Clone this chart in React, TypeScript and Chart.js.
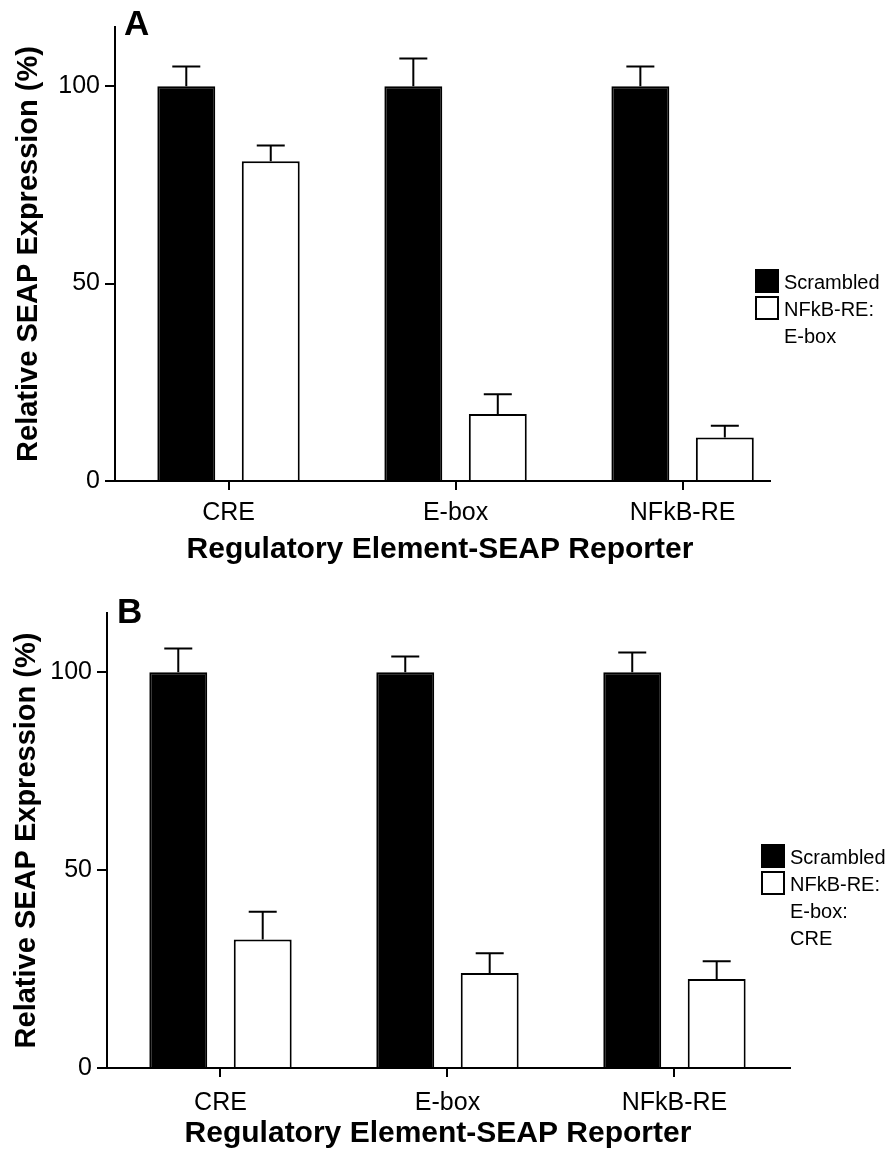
import React, { useEffect, useRef } from 'react';
import { Chart, registerables } from 'chart.js';

Chart.register(...registerables);

const FONT = '"Liberation Sans", Arial, Helvetica, sans-serif';

// Shared axis content
const categories = ['CRE', 'E-box', 'NFkB-RE'];
const categoryPositions = [0, 1, 2];
const yTickValues = [0, 50, 100];
const yMin = 0;
const yMax = 115;
const xAxisTitle = 'Regulatory Element-SEAP Reporter';
const yAxisTitle = 'Relative SEAP Expression (%)';
const scrambledLabel = ['Scrambled'];

// Panel A: scrambled vs NFkB-RE:E-box decoy
const scrambledA = [100, 100, 100];
const scrambledErrA = [5, 7, 5];
const decoyA = [81, 17, 11];
const decoyErrA = [4, 5, 3];
const decoyLabelA = ['NFkB-RE:', 'E-box'];

// Panel B: scrambled vs NFkB-RE:E-box:CRE decoy
const scrambledB = [100, 100, 100];
const scrambledErrB = [6, 4, 5];
const decoyB = [32.5, 24, 22.5];
const decoyErrB = [7, 5, 4.5];
const decoyLabelB = ['NFkB-RE:', 'E-box:', 'CRE'];

type PanelLayout = {
  letter: string;
  top: number;
  height: number;
  axisLeft: number;
  plotTop: number;
  plotBottom: number;
  plotRight: number;
  xMax: number;
  xLabelPad: number;
  yTitlePad: number;
  xTitleX: number;
  xTitleY: number;
  letterX: number;
  letterY: number;
  legendX: number;
  legendY: number;
};

type PanelData = {
  scrambled: number[];
  scrambledErr: number[];
  decoy: number[];
  decoyErr: number[];
  decoyLabel: string[];
};

const toPoints = (values: number[]) =>
  categoryPositions.map((x, i) => ({ x, y: values[i] }));

// One-sided (upper) error bars with a short cap
const errorBarPlugin = {
  id: 'errorBars',
  afterDatasetsDraw(chart: any) {
    const { ctx } = chart;
    const yScale = chart.scales.y;
    ctx.save();
    ctx.strokeStyle = '#000';
    ctx.lineWidth = 2;
    chart.data.datasets.forEach((ds: any, i: number) => {
      const meta = chart.getDatasetMeta(i);
      meta.data.forEach((bar: any, j: number) => {
        const v = meta.controller.getParsed(j).y;
        const e = ds.errors ? ds.errors[j] : 0;
        if (!e) return;
        const yTop = yScale.getPixelForValue(v + e);
        const x = bar.x;
        ctx.beginPath();
        ctx.moveTo(x, bar.y);
        ctx.lineTo(x, yTop);
        ctx.moveTo(x - 14, yTop);
        ctx.lineTo(x + 14, yTop);
        ctx.stroke();
      });
    });
    ctx.restore();
  },
};

// Panel letter, x-axis title and the boxed legend drawn inside the plot
const panelDecorPlugin = {
  id: 'panelDecor',
  afterDraw(chart: any, _args: any, opts: any) {
    const { ctx } = chart;
    ctx.save();
    ctx.fillStyle = '#000';
    ctx.font = `bold 35px ${FONT}`;
    ctx.textBaseline = 'alphabetic';
    ctx.textAlign = 'left';
    ctx.fillText(opts.letter, opts.letterX, opts.letterY);

    ctx.font = `bold 30px ${FONT}`;
    ctx.textAlign = 'center';
    ctx.textBaseline = 'middle';
    ctx.fillText(opts.xTitle, opts.xTitleX, opts.xTitleY);

    ctx.font = `20px ${FONT}`;
    ctx.textAlign = 'left';
    let lineY = opts.legendY;
    chart.data.datasets.forEach((ds: any) => {
      ctx.fillStyle = ds.backgroundColor;
      ctx.fillRect(opts.legendX, lineY - 13, 22, 22);
      ctx.strokeStyle = '#000';
      ctx.lineWidth = 2;
      ctx.strokeRect(opts.legendX, lineY - 13, 22, 22);
      ctx.fillStyle = '#000';
      (ds.legendLines as string[]).forEach((line) => {
        ctx.fillText(line, opts.legendX + 28, lineY);
        lineY += 27;
      });
    });
    ctx.restore();
  },
};

function BarPanel({ layout, data }: { layout: PanelLayout; data: PanelData }) {
  const ref = useRef<HTMLCanvasElement>(null);

  useEffect(() => {
    if (!ref.current) return;
    const barShape = {
      borderColor: '#000',
      borderWidth: 2,
      categoryPercentage: 0.744,
      barPercentage: 0.686,
    };
    const chart = new Chart(ref.current, {
      type: 'bar',
      data: {
        datasets: [
          {
            label: scrambledLabel.join(' '),
            data: toPoints(data.scrambled),
            backgroundColor: '#000',
            errors: data.scrambledErr,
            legendLines: scrambledLabel,
            ...barShape,
          } as any,
          {
            label: data.decoyLabel.join(' '),
            data: toPoints(data.decoy),
            backgroundColor: '#fff',
            errors: data.decoyErr,
            legendLines: data.decoyLabel,
            ...barShape,
          } as any,
        ],
      },
      options: {
        animation: false,
        responsive: false,
        devicePixelRatio: 1,
        layout: {
          padding: {
            top: layout.plotTop,
            right: 888 - layout.plotRight,
            bottom: 0,
            left: 0,
          },
        },
        plugins: {
          legend: { display: false },
          tooltip: { enabled: false },
          panelDecor: {
            letter: layout.letter,
            letterX: layout.letterX,
            letterY: layout.letterY,
            legendX: layout.legendX,
            legendY: layout.legendY,
            xTitle: xAxisTitle,
            xTitleX: layout.xTitleX,
            xTitleY: layout.xTitleY,
          },
        } as any,
        scales: {
          x: {
            type: 'linear',
            min: -0.5,
            max: layout.xMax,
            offset: false,
            grid: {
              display: true,
              offset: false,
              drawOnChartArea: false,
              drawTicks: true,
              tickLength: 9,
              color: '#000',
              lineWidth: 2,
            },
            border: { display: true, color: '#000', width: 2 },
            ticks: {
              color: '#000',
              font: { family: FONT, size: 25 },
              padding: layout.xLabelPad,
              callback: (v: any) => categories[v] ?? '',
            },
            afterBuildTicks: (s: any) => {
              s.ticks = categoryPositions.map((v) => ({ value: v }));
            },
            afterFit: (s: any) => {
              s.height = layout.height - layout.plotBottom;
            },
          },
          y: {
            type: 'linear',
            min: yMin,
            max: yMax,
            grid: {
              display: true,
              drawOnChartArea: false,
              drawTicks: true,
              tickLength: 10,
              color: '#000',
              lineWidth: 2,
            },
            border: { display: true, color: '#000', width: 2 },
            ticks: { color: '#000', font: { family: FONT, size: 25 }, padding: 5 },
            afterBuildTicks: (s: any) => {
              s.ticks = yTickValues.map((v) => ({ value: v }));
            },
            title: {
              display: true,
              text: yAxisTitle,
              color: '#000',
              font: { family: FONT, size: 29, weight: 'bold' },
              padding: { top: layout.yTitlePad, bottom: 0 },
            },
            afterFit: (s: any) => {
              s.width = layout.axisLeft;
            },
          },
        } as any,
      },
      plugins: [errorBarPlugin, panelDecorPlugin],
    });
    return () => chart.destroy();
  }, [layout, data]);

  return (
    <canvas
      ref={ref}
      width={888}
      height={layout.height}
      style={{ position: 'absolute', left: 0, top: layout.top, width: 888, height: layout.height, display: 'block' }}
    />
  );
}

const layoutA: PanelLayout = {
  letter: 'A',
  top: 0,
  height: 575,
  axisLeft: 115,
  plotTop: 27,
  plotBottom: 481,
  plotRight: 770,
  xMax: 2.385,
  xLabelPad: 8,
  yTitlePad: 12,
  xTitleX: 440,
  xTitleY: 550,
  letterX: 124,
  letterY: 35,
  legendX: 756,
  legendY: 283,
};

const layoutB: PanelLayout = {
  letter: 'B',
  top: 575,
  height: 576,
  axisLeft: 107,
  plotTop: 38,
  plotBottom: 493,
  plotRight: 790,
  xMax: 2.509,
  xLabelPad: 11,
  yTitlePad: 10,
  xTitleX: 438,
  xTitleY: 559,
  letterX: 117,
  letterY: 48,
  legendX: 762,
  legendY: 283,
};

const dataA: PanelData = {
  scrambled: scrambledA,
  scrambledErr: scrambledErrA,
  decoy: decoyA,
  decoyErr: decoyErrA,
  decoyLabel: decoyLabelA,
};

const dataB: PanelData = {
  scrambled: scrambledB,
  scrambledErr: scrambledErrB,
  decoy: decoyB,
  decoyErr: decoyErrB,
  decoyLabel: decoyLabelB,
};

export default function App() {
  return (
    <div style={{ position: 'absolute', left: 0, top: 0, width: 888, height: 1151, background: '#fff' }}>
      <BarPanel layout={layoutA} data={dataA} />
      <BarPanel layout={layoutB} data={dataB} />
    </div>
  );
}
